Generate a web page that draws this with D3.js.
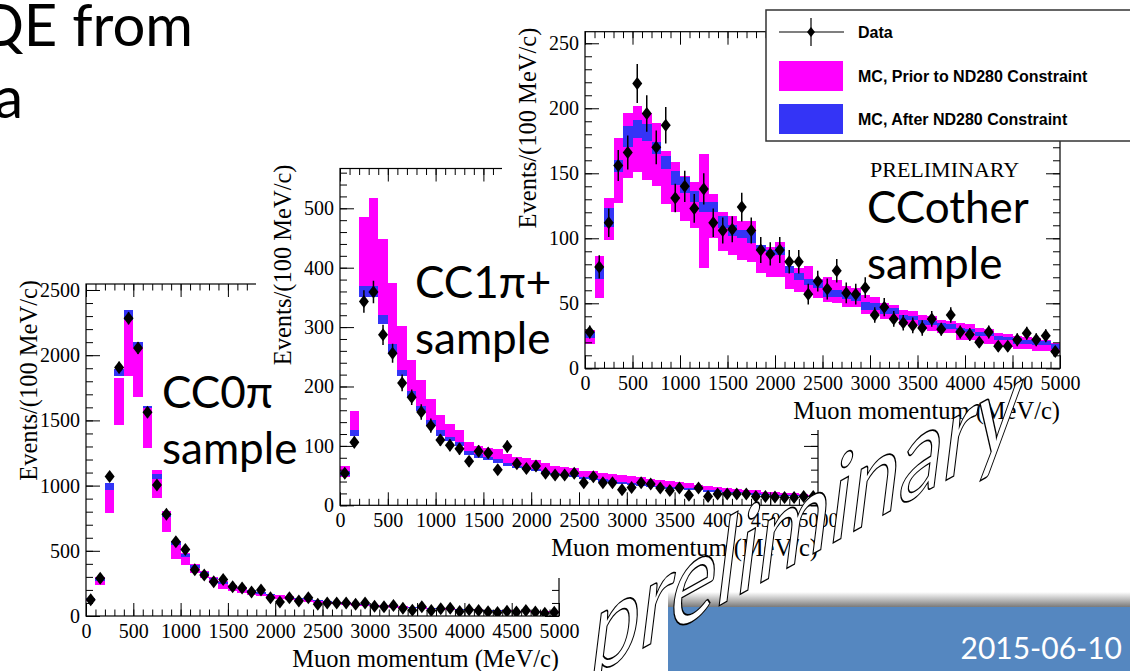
<!DOCTYPE html>
<html>
<head>
<meta charset="utf-8">
<script src="https://cdn.jsdelivr.net/npm/d3@7"></script>
<style>
  html, body { margin: 0; padding: 0; background: #fff; }
  svg { display: block; }
</style>
</head>
<body>
<svg id="slide" width="1130" height="671"></svg>
<script>
// ---------- data ----------
// Lower edges of the 100 MeV/c momentum bins
const momentumBins = [0, 100, 200, 300, 400, 500, 600, 700, 800, 900,
  1000, 1100, 1200, 1300, 1400, 1500, 1600, 1700, 1800, 1900,
  2000, 2100, 2200, 2300, 2400, 2500, 2600, 2700, 2800, 2900,
  3000, 3100, 3200, 3300, 3400, 3500, 3600, 3700, 3800, 3900,
  4000, 4100, 4200, 4300, 4400, 4500, 4600, 4700, 4800, 4900];
const binWidth = 100;
const xTickLabels = [0, 500, 1000, 1500, 2000, 2500, 3000, 3500, 4000, 4500, 5000];

// CC0pi sample
const cc0piData = [125, 290, 1070, 1905, 2284, 2055, 1562, 1005, 780, 570, 510, 355, 315, 262, 280, 225, 215, 185, 200, 140, 108, 140, 115, 140, 90, 100, 100, 100, 90, 100, 75, 70, 80, 60, 45, 70, 42, 55, 60, 35, 48, 42, 32, 26, 36, 30, 42, 30, 22, 28];
const cc0piErr = [11, 17, 33, 44, 48, 45, 40, 32, 28, 24, 23, 19, 18, 16, 17, 15, 15, 14, 14, 12, 10, 12, 11, 12, 9, 10, 10, 10, 9, 10, 9, 8, 9, 8, 7, 8, 6, 7, 8, 6, 7, 6, 6, 5, 6, 5, 6, 5, 5, 5];
const cc0piPriorLo = [115, 240, 790, 1468, 1842, 1680, 1287, 902, 646, 440, 390, 330, 290, 250, 210, 190, 180, 160, 150, 140, 130, 122, 115, 108, 100, 95, 90, 85, 80, 76, 72, 68, 64, 61, 58, 55, 52, 50, 47, 45, 43, 41, 39, 37, 35, 34, 32, 31, 29, 28];
const cc0piPriorHi = [140, 300, 1020, 1826, 2270, 2062, 1612, 1120, 805, 575, 480, 400, 345, 300, 265, 235, 220, 200, 185, 170, 160, 150, 140, 132, 124, 116, 110, 104, 98, 93, 88, 84, 79, 75, 71, 67, 64, 61, 58, 55, 52, 50, 48, 46, 44, 42, 40, 38, 36, 35];
const cc0piPostLo = [120, 270, 970, 1837, 2270, 2062, 1595, 1048, 760, 545, 455, 370, 320, 280, 245, 220, 205, 185, 172, 160, 150, 140, 130, 122, 114, 107, 100, 95, 89, 84, 80, 75, 71, 67, 63, 60, 57, 54, 51, 48, 46, 44, 42, 40, 38, 36, 35, 33, 31, 30];
const cc0piPostHi = [135, 295, 1020, 1894, 2350, 2105, 1612, 1089, 790, 570, 475, 390, 340, 295, 260, 232, 216, 196, 182, 168, 157, 147, 137, 129, 121, 113, 106, 101, 95, 90, 85, 80, 76, 72, 68, 64, 61, 58, 55, 52, 50, 48, 46, 44, 42, 40, 38, 36, 34, 33];
const cc0piYTicks = [0, 500, 1000, 1500, 2000, 2500];

// CC1pi+ sample
const cc1piData = [54, 106, 343, 359, 287, 256, 206, 182, 157, 134, 110, 101, 95, 74, 91, 88, 60, 99, 70, 62, 66, 54, 51, 51, 54, 38, 48, 38, 38, 26, 30, 38, 36, 29, 25, 29, 17, 29, 15, 19, 19, 19, 19, 15, 15, 14, 13, 13, 15, 15];
const cc1piErr = [7, 10, 19, 19, 17, 16, 14, 13, 13, 12, 10, 10, 10, 9, 10, 9, 8, 10, 8, 8, 8, 7, 7, 7, 7, 6, 7, 6, 6, 5, 5, 6, 6, 5, 5, 5, 4, 5, 4, 4, 4, 4, 4, 4, 4, 4, 4, 4, 4, 4];
const cc1piPriorLo = [48, 116, 360, 370, 321, 272, 228, 192, 167, 143, 126, 115, 106, 90, 85, 80, 74, 70, 62, 61, 58, 55, 53, 51, 48, 45, 44, 43, 40, 38, 36, 34, 33, 31, 30, 28, 27, 26, 24, 23, 22, 21, 20, 19, 18, 17, 16, 16, 15, 14];
const cc1piPriorHi = [66, 158, 486, 518, 449, 375, 302, 244, 211, 179, 152, 137, 127, 107, 100, 97, 95, 86, 82, 79, 76, 71, 67, 65, 62, 58, 57, 54, 53, 51, 49, 47, 45, 43, 41, 39, 37, 35, 33, 31, 29, 28, 26, 25, 23, 22, 21, 20, 19, 18];
const cc1piPostLo = [50, 116, 351, 351, 306, 257, 218, 183, 158, 133, 116, 108, 100, 85, 80, 76, 72, 67, 62, 60, 57, 54, 51, 49, 47, 44, 42, 40, 38, 36, 34, 33, 31, 30, 28, 27, 26, 25, 23, 22, 21, 20, 19, 18, 17, 16, 16, 15, 14, 14];
const cc1piPostHi = [57, 126, 370, 370, 321, 272, 228, 192, 167, 143, 126, 115, 106, 92, 87, 82, 78, 72, 67, 64, 61, 58, 55, 53, 51, 48, 46, 44, 42, 40, 38, 36, 35, 33, 31, 30, 29, 27, 26, 25, 23, 22, 21, 20, 19, 18, 18, 17, 16, 16];
const cc1piYTicks = [0, 100, 200, 300, 400, 500];

// CCother sample
const ccOtherData = [28, 78, 112, 156, 166, 219, 196, 170, 187, 131, 140, 123, 138, 112, 106, 107, 124, 106, 91, 88, 91, 82, 82, 57, 67, 61, 75, 58, 57, 62, 41, 47, 38, 35, 33, 31, 38, 30, 41, 28, 26, 20, 28, 17, 17, 22, 27, 22, 25, 13];
const ccOtherErr = [5, 9, 11, 12, 13, 15, 14, 13, 14, 11, 12, 11, 12, 11, 10, 10, 11, 10, 10, 9, 10, 9, 9, 8, 8, 8, 9, 8, 8, 8, 6, 7, 6, 6, 6, 6, 6, 5, 6, 5, 5, 4, 5, 4, 4, 5, 5, 5, 5, 4];
const ccOtherPriorLo = [18.5, 54, 99, 127, 146, 151, 145, 140, 126, 120, 113, 108, 77, 100, 90, 87, 83, 82, 73, 70, 70, 61, 59, 56, 54, 51, 50, 47, 47, 42, 42, 38, 38, 33, 33, 30, 29, 27, 27, 22, 22, 20, 19, 17, 16, 15, 15, 13, 13, 11.5];
const ccOtherPriorHi = [29.5, 86, 131, 177, 196, 202, 196, 189, 167, 159, 148, 143, 165, 134, 120, 117, 113, 113, 95, 93, 97, 79, 77, 79, 69, 70, 68, 63, 62, 56, 55, 50, 49, 45, 44, 41, 40, 37, 36, 35, 34, 31, 30, 27, 26, 25, 24, 23, 22, 19.7];
const ccOtherPostLo = [23, 69, 109, 151, 170, 177, 175, 165, 153, 141, 135, 128, 120, 120, 108, 102, 100, 96, 90, 86, 87, 73, 68, 64, 62, 55, 55, 53, 52, 45, 45, 42, 42, 37, 37, 33, 33, 30, 30, 28, 28, 25, 25, 22, 22, 19, 19, 18, 18, 15];
const ccOtherPostHi = [28, 77, 123, 160, 186, 191, 188, 174, 163, 152, 147, 136, 128, 128, 117, 110, 106, 105, 95, 91, 93, 79, 73, 69, 68, 60, 60, 59, 58, 51, 50, 47, 46, 41, 40, 37, 36, 35, 34, 31, 30, 28, 27, 25, 24, 23, 22, 21, 21, 19];
const ccOtherYTicks = [0, 50, 100, 150, 200, 250];

const legendLabels = ["Data", "MC, Prior to ND280 Constraint", "MC, After ND280 Constraint"];

// ---------- styling ----------
const MAGENTA = "#ff00ff";
const BLUE = "#3434f6";
const SERIF = "'Liberation Serif', 'Times New Roman', serif";
const SANS = "'Liberation Sans', Arial, sans-serif";
const SLIDE = "Lato, 'Noto Sans', 'Open Sans', sans-serif";

const svg = d3.select("#slide");
const defs = svg.append("defs");

// Slide heading (runs off the left edge of the slide)
svg.append("text").attr("x", 193).attr("y", 46).attr("text-anchor", "end")
  .attr("font-family", SLIDE).attr("font-size", 58).attr("fill", "#000").text("QE from");
svg.append("text").attr("x", 23).attr("y", 118).attr("text-anchor", "end")
  .attr("font-family", SLIDE).attr("font-size", 58).attr("fill", "#000").text("a");

// ---------- one ROOT-style histogram pad ----------
function drawPad(p, idx) {
  const g = svg.append("g");
  if (p.sheet) {
    g.append("rect").attr("x", p.sheet[0]).attr("y", p.sheet[1])
      .attr("width", p.sheet[2]).attr("height", p.sheet[3]).attr("fill", "#fff");
  }
  const x = d3.scaleLinear().domain([0, 5000]).range([p.left, p.right]);
  const y = d3.scaleLinear().domain([0, p.yMax]).range([p.bottom, p.top]);

  const clipId = "frameclip" + idx;
  defs.append("clipPath").attr("id", clipId).append("rect")
    .attr("x", p.left).attr("y", p.top)
    .attr("width", p.right - p.left).attr("height", p.bottom - p.top);
  const plot = g.append("g").attr("clip-path", `url(#${clipId})`);

  // error band before the ND280 constraint
  plot.append("g").attr("shape-rendering", "crispEdges")
    .selectAll("rect").data(momentumBins).join("rect")
    .attr("x", d => x(d)).attr("width", d => x(d + binWidth) - x(d))
    .attr("y", (d, i) => y(p.priorHi[i]))
    .attr("height", (d, i) => y(p.priorLo[i]) - y(p.priorHi[i]))
    .attr("fill", MAGENTA);
  // error band after the ND280 constraint
  plot.append("g").attr("shape-rendering", "crispEdges")
    .selectAll("rect").data(momentumBins).join("rect")
    .attr("x", d => x(d)).attr("width", d => x(d + binWidth) - x(d))
    .attr("y", (d, i) => y(p.postHi[i]))
    .attr("height", (d, i) => y(p.postLo[i]) - y(p.postHi[i]))
    .attr("fill", BLUE);
  // data: statistical error bars and diamond markers
  const pts = plot.append("g").selectAll("g").data(momentumBins).join("g")
    .attr("transform", (d, i) => `translate(${x(d + binWidth / 2)},${y(p.data[i])})`);
  pts.append("line")
    .attr("x1", 0).attr("x2", 0)
    .attr("y1", (d, i) => y(p.data[i] + p.err[i]) - y(p.data[i]))
    .attr("y2", (d, i) => y(p.data[i] - p.err[i]) - y(p.data[i]))
    .attr("stroke", "#000").attr("stroke-width", 1.5);
  pts.append("path").attr("d", "M0,-6.5L5,0L0,6.5L-5,0Z").attr("fill", "#000");

  // axes: labelled major ticks and minor ticks on all four sides, pointing inward
  const xMinor = d3.range(0, 5001, 100);
  const yMinor = d3.range(0, p.yMax, p.yMinor);
  const styleAxis = sel => {
    sel.select(".domain").remove();
    sel.selectAll("line").attr("stroke", "#000").attr("stroke-width", 1);
    sel.selectAll("text").attr("font-family", SERIF).attr("font-size", 20).attr("fill", "#000");
  };
  g.append("g").attr("transform", `translate(0,${p.bottom})`)
    .call(d3.axisBottom(x).tickValues(xMinor).tickSizeInner(-6.5).tickSizeOuter(0).tickFormat(""))
    .call(styleAxis);
  g.append("g").attr("transform", `translate(0,${p.bottom})`)
    .call(d3.axisBottom(x).tickValues(xTickLabels).tickSizeInner(-13).tickSizeOuter(0).tickPadding(8).tickFormat(d3.format("d")))
    .call(styleAxis);
  g.append("g").attr("transform", `translate(0,${p.top})`)
    .call(d3.axisTop(x).tickValues(xMinor).tickSizeInner(-6.5).tickSizeOuter(0).tickFormat(""))
    .call(styleAxis);
  g.append("g").attr("transform", `translate(0,${p.top})`)
    .call(d3.axisTop(x).tickValues(xTickLabels).tickSizeInner(-13).tickSizeOuter(0).tickFormat(""))
    .call(styleAxis);
  g.append("g").attr("transform", `translate(${p.left},0)`)
    .call(d3.axisLeft(y).tickValues(yMinor).tickSizeInner(-7).tickSizeOuter(0).tickFormat(""))
    .call(styleAxis);
  g.append("g").attr("transform", `translate(${p.left},0)`)
    .call(d3.axisLeft(y).tickValues(p.yTicks).tickSizeInner(-14).tickSizeOuter(0).tickPadding(6).tickFormat(d3.format("d")))
    .call(styleAxis);
  g.append("g").attr("transform", `translate(${p.right},0)`)
    .call(d3.axisRight(y).tickValues(yMinor).tickSizeInner(-7).tickSizeOuter(0).tickFormat(""))
    .call(styleAxis);
  g.append("g").attr("transform", `translate(${p.right},0)`)
    .call(d3.axisRight(y).tickValues(p.yTicks).tickSizeInner(-14).tickSizeOuter(0).tickFormat(""))
    .call(styleAxis);

  // frame
  g.append("rect").attr("x", p.left).attr("y", p.top)
    .attr("width", p.right - p.left).attr("height", p.bottom - p.top)
    .attr("fill", "none").attr("stroke", "#000").attr("stroke-width", 1.2);

  // axis titles
  g.append("text").attr("x", p.right).attr("y", p.bottom + 51)
    .attr("text-anchor", "end").attr("font-family", SERIF).attr("font-size", 24.5)
    .attr("fill", "#000").text("Muon momentum (MeV/c)");
  g.append("text")
    .attr("transform", `translate(${p.left - 49},${p.top - 4}) rotate(-90)`)
    .attr("text-anchor", "end").attr("font-family", SERIF).attr("font-size", 24.5)
    .attr("fill", "#000").text("Events/(100 MeV/c)");
  return g;
}

const pads = [
  { data: cc0piData, err: cc0piErr, priorLo: cc0piPriorLo, priorHi: cc0piPriorHi,
    postLo: cc0piPostLo, postHi: cc0piPostHi, yTicks: cc0piYTicks, yMax: 2546, yMinor: 100,
    left: 86, right: 559, top: 284, bottom: 616, sheet: null },
  { data: cc1piData, err: cc1piErr, priorLo: cc1piPriorLo, priorHi: cc1piPriorHi,
    postLo: cc1piPostLo, postHi: cc1piPostHi, yTicks: cc1piYTicks, yMax: 567, yMinor: 20,
    left: 340, right: 818, top: 168.5, bottom: 505.3, sheet: [256, 150, 580, 428] },
  { data: ccOtherData, err: ccOtherErr, priorLo: ccOtherPriorLo, priorHi: ccOtherPriorHi,
    postLo: ccOtherPostLo, postHi: ccOtherPostHi, yTicks: ccOtherYTicks, yMax: 258.9, yMinor: 10,
    left: 585, right: 1060, top: 31.7, bottom: 368.3, sheet: [502, 0, 570, 430] }
];
pads.forEach(drawPad);

// ---------- legend of the CCother pad ----------
const leg = svg.append("g");
leg.append("rect").attr("x", 766).attr("y", 10).attr("width", 400).attr("height", 131)
  .attr("fill", "#fff").attr("stroke", "#333").attr("stroke-width", 1.5);
const legRows = [32, 76, 119];
leg.append("line").attr("x1", 779).attr("x2", 844).attr("y1", legRows[0]).attr("y2", legRows[0])
  .attr("stroke", "#000").attr("stroke-width", 1.2);
leg.append("line").attr("x1", 811).attr("x2", 811).attr("y1", legRows[0] - 14).attr("y2", legRows[0] + 14)
  .attr("stroke", "#000").attr("stroke-width", 1.2);
leg.append("path").attr("transform", `translate(811,${legRows[0]})`)
  .attr("d", "M0,-5L4,0L0,5L-4,0Z").attr("fill", "#000");
leg.append("rect").attr("x", 779).attr("y", legRows[1] - 15).attr("width", 64).attr("height", 30).attr("fill", MAGENTA);
leg.append("rect").attr("x", 779).attr("y", legRows[2] - 15).attr("width", 64).attr("height", 30).attr("fill", BLUE);
leg.selectAll("text.lab").data(legendLabels).join("text").attr("class", "lab")
  .attr("x", 858).attr("y", (d, i) => legRows[i] + 5.5)
  .attr("font-family", SANS).attr("font-weight", "bold").attr("font-size", 16)
  .attr("fill", "#000").text(d => d);

svg.append("text").attr("x", 870).attr("y", 177).attr("font-family", SERIF)
  .attr("font-size", 22).attr("fill", "#000").text("PRELIMINARY");

// ---------- slide captions ----------
function caption(x, y, lines) {
  const t = svg.append("text").attr("font-family", SLIDE).attr("font-size", 44).attr("fill", "#000");
  lines.forEach((s, i) => t.append("tspan").attr("x", x).attr("y", y + i * 56).text(s));
}
caption(162, 408, ["CC0π", "sample"]);
caption(415, 298, ["CC1π+", "sample"]);
caption(867, 223, ["CCother", "sample"]);

// ---------- footer bar with date ----------
const grad = defs.append("linearGradient").attr("id", "barShade")
  .attr("x1", 0).attr("y1", 0).attr("x2", 0).attr("y2", 1);
grad.append("stop").attr("offset", "0%").attr("stop-color", "#ffffff");
grad.append("stop").attr("offset", "100%").attr("stop-color", "#7a7a7a");
svg.append("rect").attr("x", 668).attr("y", 592).attr("width", 462).attr("height", 15).attr("fill", "url(#barShade)");
svg.append("rect").attr("x", 668).attr("y", 607).attr("width", 462).attr("height", 64).attr("fill", "#5587c0");
svg.append("text").attr("x", 1122).attr("y", 659).attr("text-anchor", "end")
  .attr("font-family", SLIDE).attr("font-size", 30).attr("fill", "#fff").text("2015-06-10");

// ---------- outlined, slanted watermark ----------
svg.append("g").attr("transform", "translate(806,528) rotate(-29) skewX(-36)")
  .append("text").attr("text-anchor", "middle").attr("y", 26)
  .attr("font-family", SLIDE).attr("font-size", 100)
  .attr("fill", "#fff").attr("stroke", "#000").attr("stroke-width", 1.3)
  .text("preliminary");
</script>
</body>
</html>
